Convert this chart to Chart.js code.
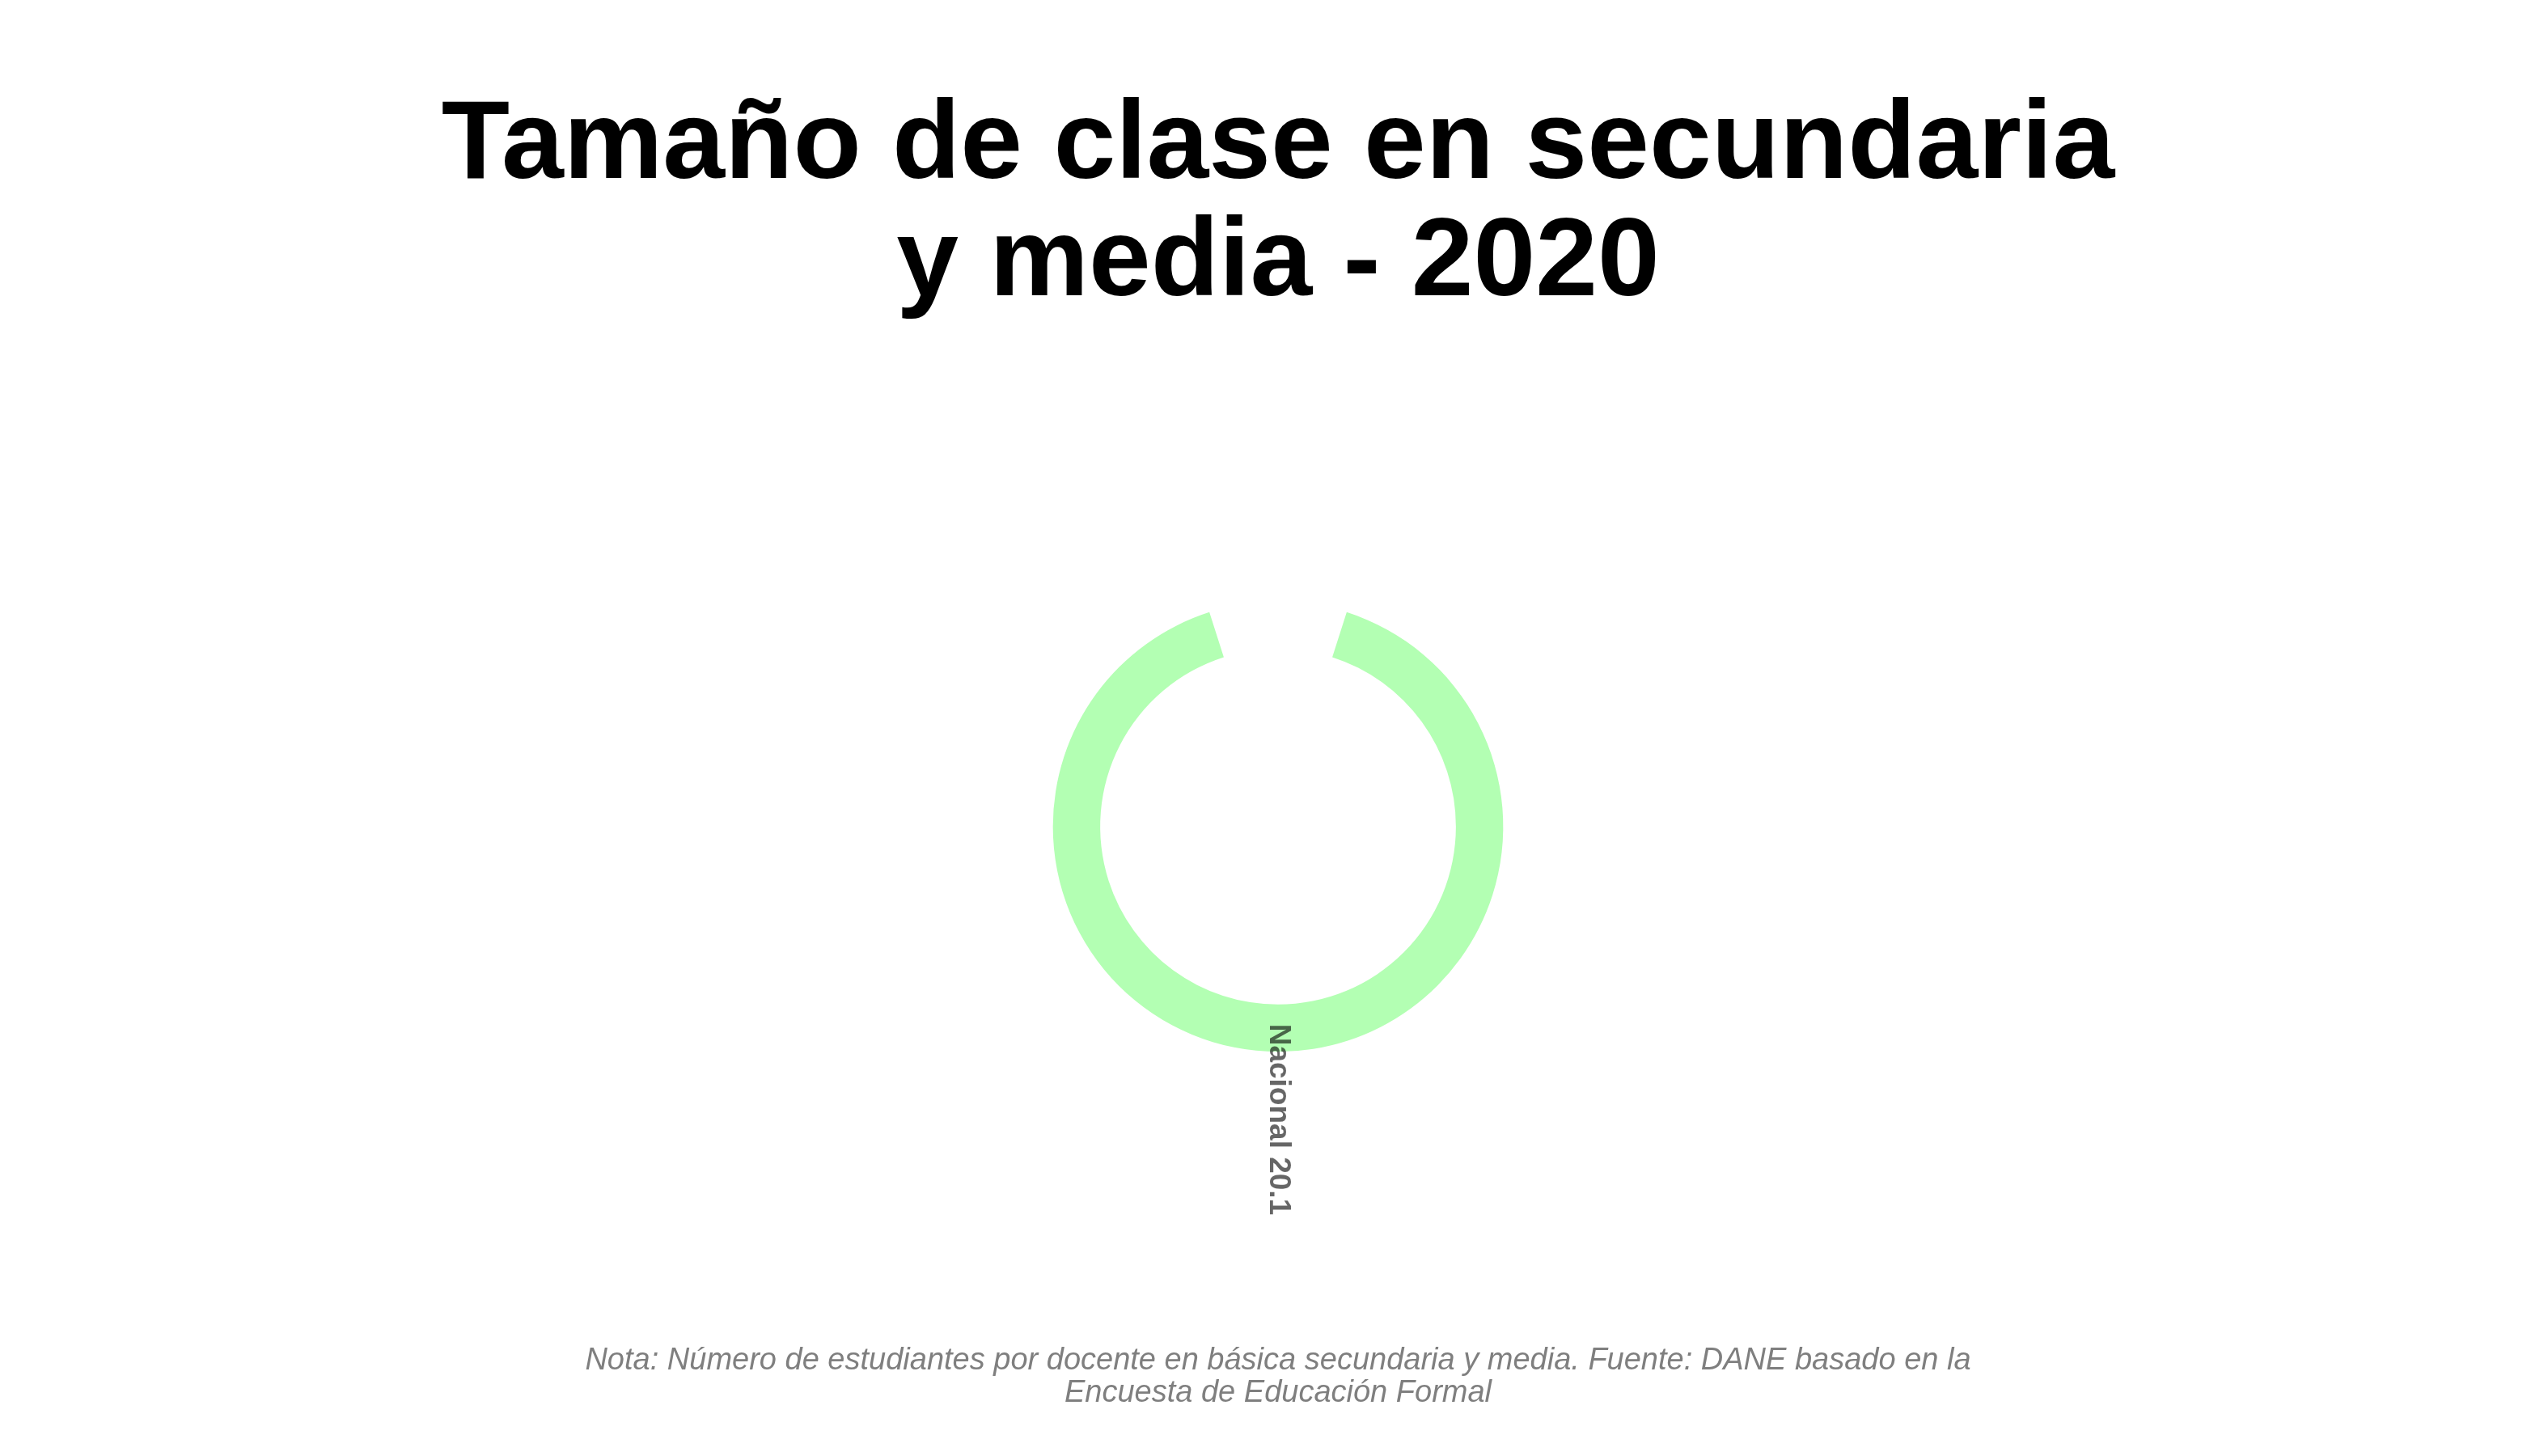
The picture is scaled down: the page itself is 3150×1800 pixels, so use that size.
<!DOCTYPE html>
<html lang="es">
<head>
    <meta charset="UTF-8">
    <title>Tamaño de clase</title>
    <style>
        body {
            margin: 0;
            background: #ffffff;
        }
        canvas {
            display: block;
        }
    </style>
</head>
<body>
    <canvas id="grafico" width="3150" height="1800"></canvas>
    <script src="https://cdn.jsdelivr.net/npm/chart.js@4.4.1/dist/chart.umd.min.js"></script>
    <script>
        // datos
        const categorias = ['Nacional'];
        const valores = [20.1];
        const escalaMax = 22.3; // el valor que daría la vuelta completa
        const titulo = ['Tamaño de clase en secundaria', 'y media - 2020'];
        const nota = [
            'Nota: Número de estudiantes por docente en básica secundaria y media. Fuente: DANE basado en la',
            'Encuesta de Educación Formal'
        ];

        const arco = valores[0] / escalaMax * 360;

        // etiqueta radial sobre la barra
        const etiquetas = {
            id: 'etiquetas',
            afterDatasetsDraw(chart) {
                const ctx = chart.ctx;
                const meta = chart.getDatasetMeta(0);
                meta.data.forEach((el, i) => {
                    const p = el.getProps(['x', 'y', 'startAngle', 'endAngle', 'innerRadius', 'outerRadius'], true);
                    const medio = (p.startAngle + p.endAngle) / 2;
                    const r = p.innerRadius + (p.outerRadius - p.innerRadius) * 0.41;
                    ctx.save();
                    ctx.translate(p.x, p.y);
                    ctx.rotate(medio);
                    ctx.font = 'bold 37px "Liberation Sans", Arial, sans-serif';
                    ctx.fillStyle = 'rgba(0, 0, 0, 0.6)';
                    ctx.textAlign = 'left';
                    ctx.textBaseline = 'middle';
                    ctx.fillText(categorias[i] + ' ' + valores[i], r, 0);
                    ctx.restore();
                });
            }
        };

        const ctx = document.getElementById('grafico').getContext('2d');
        const grafico = new Chart(ctx, {
            type: 'doughnut',
            data: {
                labels: categorias,
                datasets: [{
                    data: valores,
                    backgroundColor: '#b3ffb3',
                    borderWidth: 0
                }]
            },
            plugins: [etiquetas],
            options: {
                responsive: false,
                animation: false,
                rotation: (360 - arco) / 2,
                circumference: arco,
                cutout: '79%',
                layout: {
                    padding: { left: 10, right: 0, top: 0, bottom: 0 }
                },
                plugins: {
                    legend: { display: false },
                    tooltip: { enabled: false },
                    title: {
                        display: true,
                        text: titulo,
                        color: '#000000',
                        font: { family: '"Liberation Sans", Arial, sans-serif', size: 138, weight: 'bold', lineHeight: 1.05 },
                        padding: { top: 110, bottom: 357 }
                    },
                    subtitle: {
                        display: true,
                        position: 'bottom',
                        text: nota,
                        color: '#7f7f7f',
                        font: { family: '"Liberation Sans", Arial, sans-serif', size: 38, style: 'italic', lineHeight: 1.05 },
                        padding: { top: 362, bottom: 58 }
                    }
                }
            }
        });
    </script>
</body>
</html>
